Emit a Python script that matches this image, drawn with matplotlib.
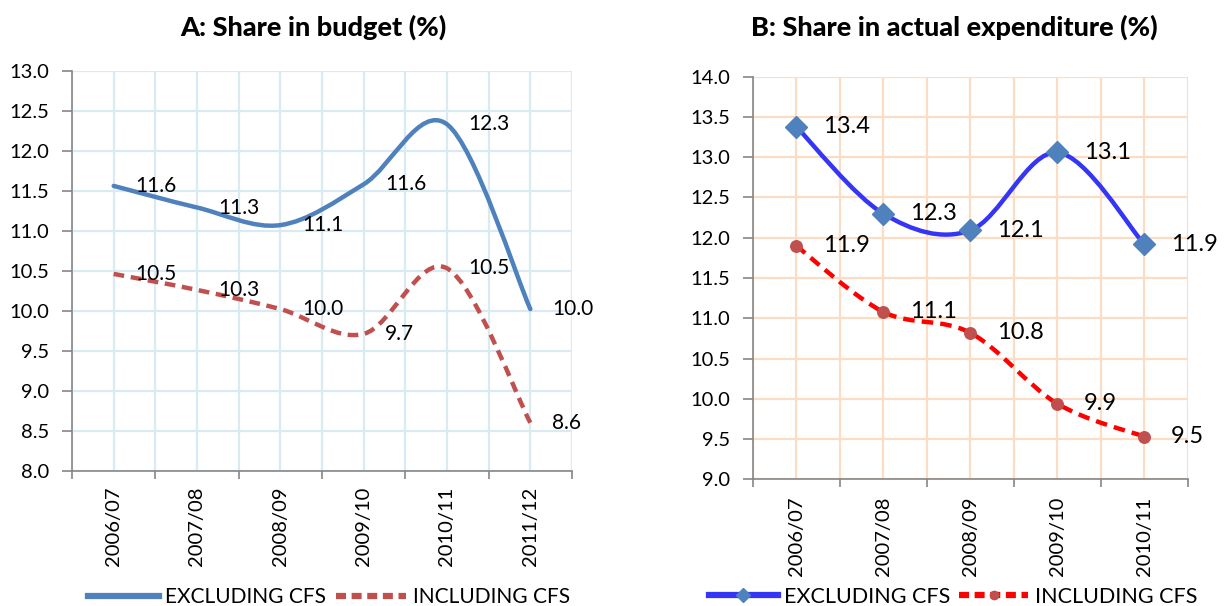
import numpy as np
import matplotlib
matplotlib.use("Agg")
import matplotlib.pyplot as plt
from matplotlib.path import Path
from matplotlib.patches import PathPatch
from matplotlib.lines import Line2D
from matplotlib.ticker import FormatStrFormatter

plt.rcParams['font.family'] = ['Lato', 'DejaVu Sans']

# ---------------- data ----------------
years_a = ['2006/07', '2007/08', '2008/09', '2009/10', '2010/11', '2011/12']
excl_a = [11.56, 11.29, 11.07, 11.58, 12.33, 10.02]
incl_a = [10.46, 10.26, 10.02, 9.71, 10.53, 8.60]

years_b = ['2006/07', '2007/08', '2008/09', '2009/10', '2010/11']
excl_b = [13.38, 12.30, 12.09, 13.06, 11.92]
incl_b = [11.90, 11.08, 10.82, 9.94, 9.53]

title_a = 'A: Share in budget (%)'
title_b = 'B: Share in actual expenditure (%)'
legend_labels = ['EXCLUDING CFS', 'INCLUDING CFS']

BLUE_A = '#4F81BD'
RED_A = '#C0504D'
BLUE_B = '#3535F5'
RED_B = '#FF0000'
GRID_A = '#DAEAF2'
GRID_B = '#FCDCC2'
AXIS = '#868686'

W, H = 1227, 606
fig = plt.figure(figsize=(W / 100, H / 100), dpi=100)


def smooth_path(xs, ys):
    pts = list(zip(xs, ys))
    n = len(pts)
    verts = [pts[0]]
    codes = [Path.MOVETO]
    for i in range(n - 1):
        p0 = pts[max(i - 1, 0)]
        p1 = pts[i]
        p2 = pts[i + 1]
        p3 = pts[min(i + 2, n - 1)]
        c1 = (p1[0] + (p2[0] - p0[0]) / 6.0, p1[1] + (p2[1] - p0[1]) / 6.0)
        c2 = (p2[0] - (p3[0] - p1[0]) / 6.0, p2[1] - (p3[1] - p1[1]) / 6.0)
        verts += [c1, c2, p2]
        codes += [Path.CURVE4] * 3
    return Path(verts, codes)


def setup(ax, cats, ymin, ymax, gridcolor, pad_x, pad_y):
    n = len(cats)
    ax.set_xlim(-0.5, n - 0.5)
    ax.set_ylim(ymin, ymax)
    ax.set_xticks(np.arange(n + 1) - 0.5)
    ax.set_xticklabels([])
    ax.set_xticks(np.arange(n), minor=True)
    ax.set_xticklabels(cats, minor=True, rotation=90, fontsize=14.5)
    ax.tick_params(axis='x', which='major', length=6, width=1.2, color=AXIS,
                   direction='out')
    ax.tick_params(axis='x', which='minor', length=0, pad=pad_x)
    ax.set_yticks(np.arange(ymin, ymax + 0.01, 0.5))
    ax.yaxis.set_major_formatter(FormatStrFormatter('%.1f'))
    ax.tick_params(axis='y', length=7, width=1.2, color=AXIS, pad=pad_y,
                   labelsize=14.5)
    ax.grid(True, which='both', axis='x', color=gridcolor, lw=1.6)
    ax.grid(True, which='major', axis='y', color=gridcolor, lw=1.6)
    ax.set_axisbelow(True)
    for s in ['top', 'right']:
        ax.spines[s].set_visible(False)
    for s in ['left', 'bottom']:
        ax.spines[s].set_color(AXIS)
        ax.spines[s].set_linewidth(1.2)


# ---------------- panel A ----------------
axA = fig.add_axes([72 / W, 1 - 470.7 / H, 500 / W, 400 / H])
setup(axA, years_a, 8.0, 13.0, GRID_A, pad_x=11.5, pad_y=9.5)
xa = np.arange(len(years_a))
axA.add_patch(PathPatch(smooth_path(xa, excl_a), facecolor='none',
                        edgecolor=BLUE_A, lw=3.2, capstyle='round',
                        joinstyle='round', zorder=3))
axA.add_patch(PathPatch(smooth_path(xa, incl_a), facecolor='none',
                        edgecolor=RED_A, lw=3.2, linestyle=(0, (2.4, 1.5)),
                        capstyle='butt', joinstyle='round', zorder=3))
for series in (excl_a, incl_a):
    for x, v in zip(xa, series):
        axA.annotate(f'{v:.1f}', (x, v), xytext=(15.5, 0),
                     textcoords='offset points', ha='left', va='center',
                     fontsize=15, color='black', zorder=4,
                     annotation_clip=False)

# ---------------- panel B ----------------
axB = fig.add_axes([752.7 / W, 1 - 479.3 / H, 435 / W, 402.6 / H])
setup(axB, years_b, 9.0, 14.0, GRID_B, pad_x=12.7, pad_y=9.0)
xb = np.arange(len(years_b))
axB.add_patch(PathPatch(smooth_path(xb, excl_b), facecolor='none',
                        edgecolor=BLUE_B, lw=3.2, capstyle='round',
                        joinstyle='round', zorder=3))
axB.add_patch(PathPatch(smooth_path(xb, incl_b), facecolor='none',
                        edgecolor=RED_B, lw=3.2, linestyle=(0, (2.6, 1.6)),
                        capstyle='butt', joinstyle='round', zorder=3))
axB.plot(xb, excl_b, linestyle='none', marker='D', ms=11, mfc=BLUE_A,
         mec=BLUE_A, zorder=4, clip_on=False)
axB.plot(xb, incl_b, linestyle='none', marker='o', ms=8.3, mfc=RED_A,
         mec=RED_A, zorder=4, clip_on=False)
for series in (excl_b, incl_b):
    for x, v in zip(xb, series):
        axB.annotate(f'{v:.1f}', (x, v), xytext=(19, 0),
                     textcoords='offset points', ha='left', va='center',
                     fontsize=17, color='black', zorder=5,
                     annotation_clip=False)

# ---------------- titles ----------------
fig.text(313 / W, 1 - 27 / H, title_a, ha='center', va='center',
         fontsize=19.5, fontweight='black')
fig.text(954 / W, 1 - 27 / H, title_b, ha='center', va='center',
         fontsize=19.5, fontweight='black')

# ---------------- legends ----------------
hA = [Line2D([], [], color=BLUE_A, lw=4.5),
      Line2D([], [], color=RED_A, lw=4.5, linestyle=(0, (1.6, 0.9)))]
fig.legend(hA, legend_labels, loc='center', bbox_to_anchor=(329 / W, 1 - 597 / H),
           ncol=2, frameon=False, fontsize=15, handlelength=3.4,
           handletextpad=0.3, columnspacing=0.45, borderpad=0, borderaxespad=0)

hB = [Line2D([], [], color=BLUE_B, lw=4.5, marker='D', ms=7, mfc=BLUE_A,
             mec=BLUE_A),
      Line2D([], [], color=RED_B, lw=4.5, linestyle=(0, (1.6, 0.9)),
             marker='o', ms=6, mfc=RED_A, mec=RED_A)]
fig.legend(hB, legend_labels, loc='center', bbox_to_anchor=(953 / W, 1 - 597 / H),
           ncol=2, frameon=False, fontsize=15.5, handlelength=3.2,
           handletextpad=0.3, columnspacing=0.4, borderpad=0, borderaxespad=0,
           numpoints=1)

fig.savefig('out.png', dpi=100)
